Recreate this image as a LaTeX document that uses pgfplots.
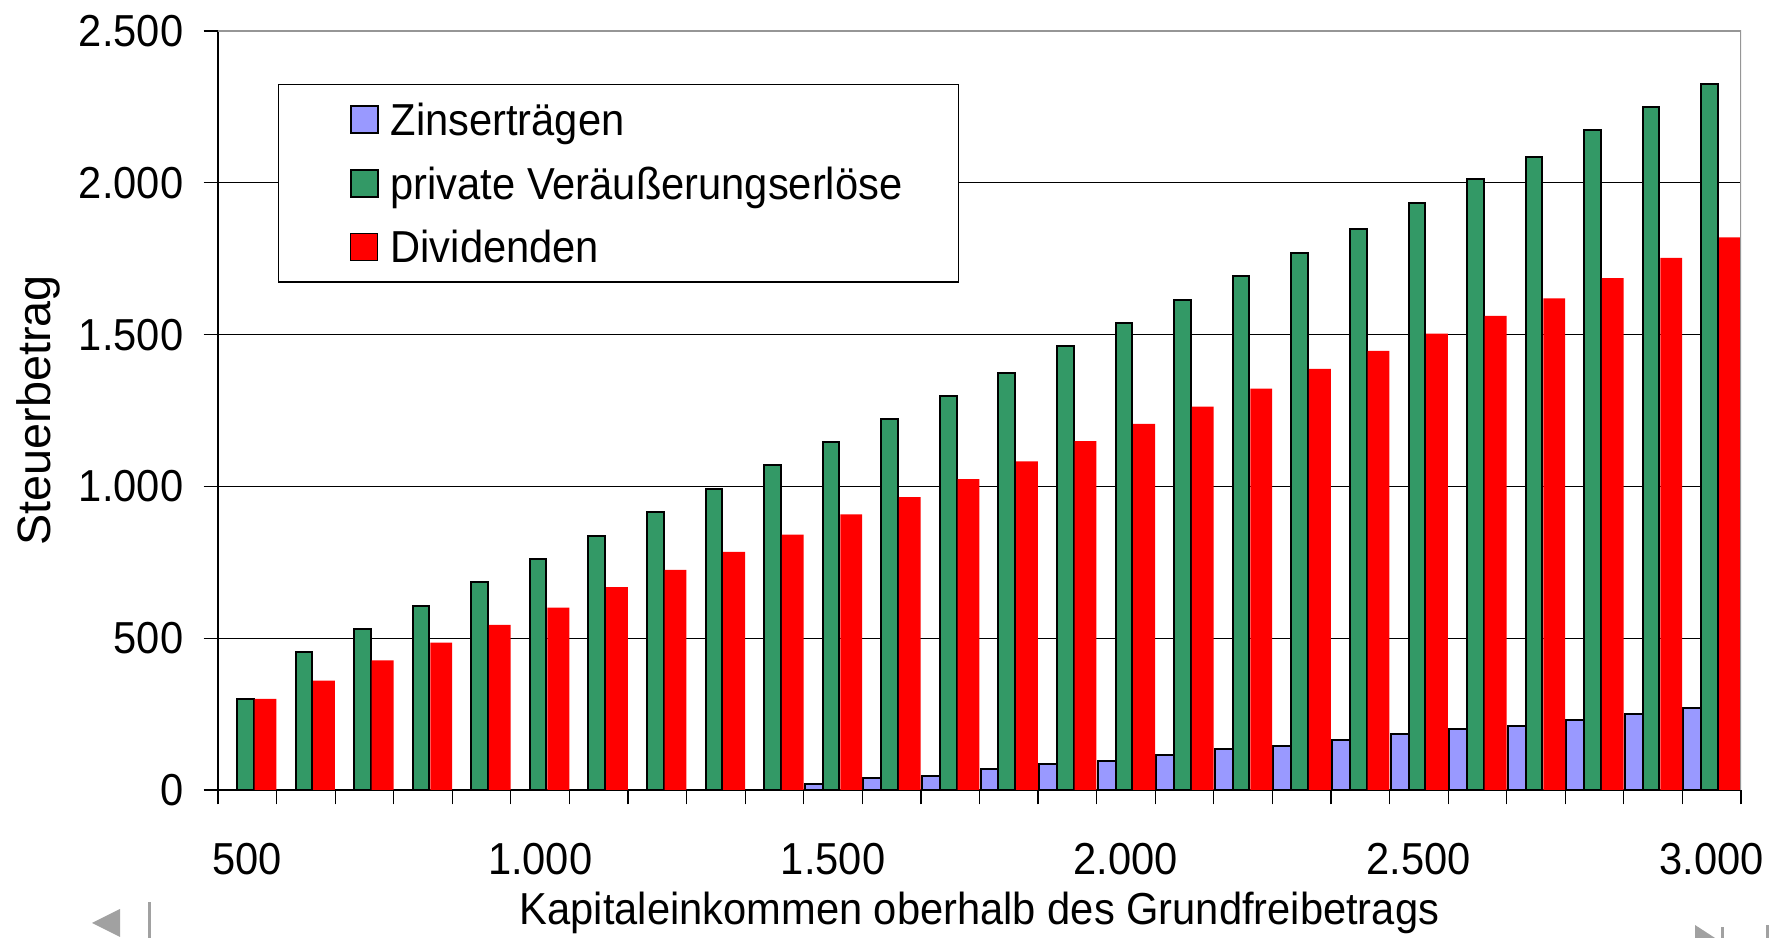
\documentclass[border=0pt]{standalone}
\usepackage{fontspec}
\setmainfont[FakeStretch=0.93]{Liberation Sans}
\newfontfamily\ylfont{Liberation Sans}
\usepackage{pgfplots}
\pgfplotsset{compat=1.18}
\definecolor{cblue}{HTML}{9999FF}
\definecolor{cgreen}{HTML}{339966}
\definecolor{cred}{HTML}{FF0000}
\definecolor{frame}{HTML}{969696}
\pgfplotsset{
  sqlegend/.style={legend image code/.code={\path (0pt,0pt); \draw[##1,/tikz/.cd,yshift=-3.375pt] (3.75pt,0pt) rectangle (10.5pt,6.75pt);}}
}
\newcommand{\chfont}{\fontsize{11.2}{13.4}\selectfont}
\begin{document}
\begin{tikzpicture}[font=\chfont]
\useasboundingbox (0,0) rectangle (442.25pt,234.5pt);
\begin{axis}[
  at={(54.5pt,37pt)}, anchor=south west,
  width=380.75pt, height=189.75pt, scale only axis,
  xmin=-0.5, xmax=25.5, ymin=0, ymax=2500,
  axis lines=left, axis line style={-, line width=0.5pt, black},
  tick align=outside, major tick length=3.6pt,
  tick style={black, line width=0.3pt},
  xtick={-0.5,0.5,...,25.5}, xticklabels={},
  extra x ticks={0,5,10,15,20,25},
  extra x tick labels={500,1.000,1.500,2.000,2.500,3.000},
  extra x tick style={major tick length=0pt, xticklabel style={anchor=center, yshift=-17.3pt}},
  ytick={0,500,1000,1500,2000,2500},
  yticklabels={0,500,1.000,1.500,2.000,2.500},
  yticklabel style={anchor=east, inner sep=0pt, xshift=-4.9pt},
  tick label style={font=\chfont},
  ymajorgrids, grid style={black, line width=0.3pt},
  ybar=0pt,
  xlabel={Kapitaleinkommen oberhalb des Grundfreibetrags},
  xlabel style={at={(axis description cs:0.5,0)}, anchor=base, yshift=-33.75pt, font=\chfont},
  ylabel={Steuerbetrag},
  ylabel style={at={(axis description cs:-0.1097,0.5)}, anchor=base, font=\ylfont\fontsize{11.7}{14}\selectfont},
  legend style={at={(axis description cs:0.0394,0.930)}, anchor=north west,
    draw=black, line width=0.3pt, fill=white,
    inner xsep=14pt, inner ysep=4.75pt, row sep=7.9pt, column sep=3pt,
    nodes={inner sep=0pt, text height=8pt, text depth=0pt},
    cells={anchor=west}, font=\chfont},
]
\addplot[sqlegend, fill=cblue, draw=black, line width=0.5pt, bar width=4.5pt, bar shift=-4.82pt] coordinates {
 (0,0) (1,0) (2,0) (3,0) (4,0) (5,0) (6,0) (7,0) (8,0) (9,0)
 (10,20) (11,40) (12,47) (13,68) (14,87) (15,96) (16,116) (17,135) (18,145) (19,164)
 (20,183) (21,202) (22,211) (23,231) (24,250) (25,269)};
\addlegendentry{Zinserträgen}
\addplot[sqlegend, fill=cgreen, draw=black, line width=0.5pt, bar width=4.15pt, bar shift=-0.5pt] coordinates {
 (0,300) (1,453) (2,530) (3,607) (4,686) (5,760) (6,837) (7,914) (8,991) (9,1070)
 (10,1145) (11,1221) (12,1298) (13,1375) (14,1462) (15,1539) (16,1615) (17,1692) (18,1769) (19,1848)
 (20,1933) (21,2011) (22,2084) (23,2173) (24,2250) (25,2325)};
\addlegendentry{private Veräußerungserlöse}
\addplot[sqlegend, fill=cred, draw=none, bar width=5.45pt, bar shift=4.55pt] coordinates {
 (0,300) (1,360) (2,427) (3,485) (4,544) (5,601) (6,668) (7,725) (8,784) (9,841)
 (10,908) (11,965) (12,1024) (13,1082) (14,1149) (15,1206) (16,1263) (17,1322) (18,1387) (19,1446)
 (20,1503) (21,1562) (22,1619) (23,1686) (24,1753) (25,1820)};
\addlegendentry{Dividenden}
\draw[frame, line width=0.5pt] (rel axis cs:0,1) -- (rel axis cs:1,1) -- (rel axis cs:1,0);
\end{axis}
% presentation navigation symbols
\fill[black!37] (23pt,3.75pt) -- (30pt,7.25pt) -- (30pt,0.25pt) -- cycle;
\fill[black!37] (37pt,0pt) rectangle (37.75pt,9pt);
\fill[black!37] (423.75pt,3.25pt) -- (423.75pt,0pt) -- (428.75pt,0pt) -- cycle;
\fill[black!37] (430.25pt,0pt) rectangle (431pt,2.75pt);
\fill[black!37] (441.5pt,0pt) rectangle (442.25pt,3.25pt);
\end{tikzpicture}
\end{document}
